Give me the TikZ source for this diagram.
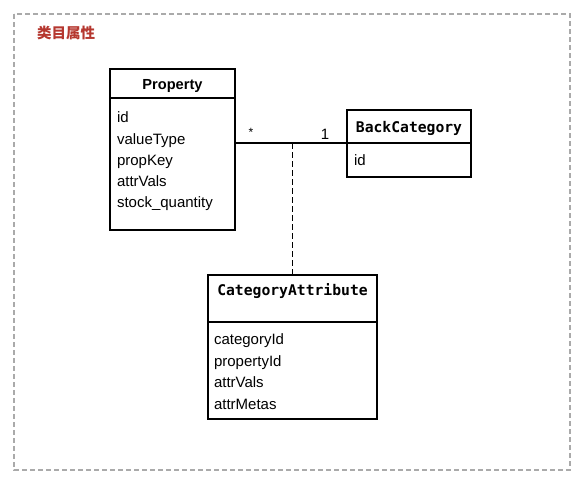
\documentclass[tikz,border=0pt]{standalone}
\usepackage{fontspec}
\setmainfont{Liberation Sans}
\newfontfamily\monofont{DejaVu Sans Mono}
\newfontfamily\cjkfont{Noto Sans CJK SC}
\definecolor{frameGray}{HTML}{AAAAAA}
\definecolor{titleRed}{HTML}{B5372F}
\begin{document}
\begin{tikzpicture}[
		x=1pt, y=-1pt,
		every node/.style={inner sep=0, outer sep=0},
		box/.style={draw, line width=1.1pt, rectangle},
		head/.style={box, font=\monofont\bfseries\fontsize{14.7}{17}\selectfont, text height=11pt, text depth=0pt},
		attr/.style={anchor=west, font=\fontsize{15}{18}\selectfont, text height=11pt, text depth=3.5pt},
	]
	\useasboundingbox (0,0) rectangle (583,485);
	\draw[frameGray, line width=1.4pt, dash pattern=on 5pt off 3pt] (14,14) rectangle (570,470);
	\node[anchor=west, text=titleRed, font=\cjkfont\bfseries\fontsize{14.5}{17}\selectfont] (title) at (37,32.5) {类目属性};

	\node[head, font=\bfseries\fontsize{14.6}{17}\selectfont, minimum width=125pt, minimum height=29pt] (propHead) at (172.5,83.5) {Property};
	\node[box, anchor=north, minimum width=125pt, minimum height=132pt] (propBody) at (propHead.south) {};
	\foreach \a [count=\i] in {id,valueType,propKey,attrVals,stock\_quantity}
		\node[attr] (propAttr\i) at (117,{119+21.25*(\i-1)}) {\a};

	\node[head, minimum width=124pt, minimum height=33pt] (bcHead) at (409,126.5) {BackCategory};
	\node[box, anchor=north, minimum width=124pt, minimum height=34pt] (bcBody) at (bcHead.south) {};
	\node[attr] (bcAttr1) at (354,162) {id};

	\node[head, minimum width=169pt, minimum height=47pt, text depth=18pt] (caHead) at (292.5,298.5) {CategoryAttribute};
	\node[box, anchor=north, minimum width=169pt, minimum height=97pt] (caBody) at (caHead.south) {};
	\foreach \a [count=\i] in {categoryId,propertyId,attrVals,attrMetas}
		\node[attr] (caAttr\i) at (214,{341+21.5*(\i-1)}) {\a};

	\coordinate (assoc) at (caHead.north |- bcHead.south);
	\draw[line width=1.1pt] (propBody.east |- bcHead.south) -- (bcHead.south west);
	\draw[line width=1.1pt, dash pattern=on 6pt off 3pt] (assoc) -- (caHead.north);
	\node[font=\fontsize{12}{14}\selectfont] (many) at (251,132) {*};
	\node[font=\fontsize{15}{18}\selectfont] (one) at (325,134) {1};
\end{tikzpicture}
\end{document}
